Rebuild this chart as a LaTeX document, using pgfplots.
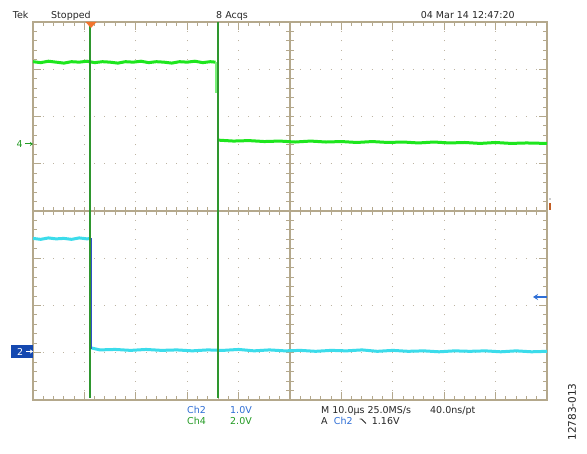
\documentclass[border=0pt]{standalone}
\usepackage{pgfplots}
\pgfplotsset{compat=1.18}
\usetikzlibrary{arrows.meta}
\usepackage{fontspec}
\setmainfont{DejaVu Sans}
\definecolor{grat}{HTML}{B4A88C}
\definecolor{gdot}{HTML}{BDB4A2}
\definecolor{trgreen}{HTML}{1EE61E}
\definecolor{trcyan}{HTML}{3CDCEB}
\definecolor{curgreen}{HTML}{2E962E}
\definecolor{edgeblue}{HTML}{3050C8}
\definecolor{chblue}{HTML}{2F6FD6}
\definecolor{chgreen}{HTML}{239B23}
\definecolor{mkblue}{HTML}{1448B0}
\definecolor{orng}{HTML}{F2752D}
\definecolor{txt}{HTML}{262626}
\newcommand{\scf}{\fontsize{9.5}{11}\selectfont}
\begin{document}
\begin{tikzpicture}
\begin{scope}[x=1pt,y=1pt]
\fill[white] (0,0) rectangle (587,454);
% dotted grid
\foreach \k in {1,2,3,4,6,7,8,9} {
  \pgfmathsetmacro\xx{33+\k*51.4}
  \draw[gdot, line width=1pt, dash pattern=on 1pt off 8.45pt, dash phase=0.5pt] (\xx,54) -- (\xx,432);
}
\foreach \k in {1,2,3,5,6,7} {
  \pgfmathsetmacro\yy{54+\k*47.25}
  \draw[gdot, line width=1pt, dash pattern=on 1pt off 9.28pt, dash phase=0.5pt] (33,\yy) -- (547,\yy);
}
% frame and center ticks
\foreach \i in {1,...,49} {
  \pgfmathsetmacro\xx{33+\i*10.28}
  \pgfmathsetmacro\tl{ifthenelse(mod(\i,5)==0,8,4)}
  \draw[grat, line width=1pt] (\xx,432) -- ++(0,-\tl);
  \draw[grat, line width=1pt] (\xx,54) -- ++(0,\tl);
  \draw[grat, line width=1pt] (\xx,239) -- (\xx,247);
}
\foreach \j in {1,...,39} {
  \pgfmathsetmacro\yy{54+\j*9.45}
  \pgfmathsetmacro\tl{ifthenelse(mod(\j,5)==0,8,4)}
  \draw[grat, line width=1pt] (33,\yy) -- ++(\tl,0);
  \draw[grat, line width=1pt] (547,\yy) -- ++(-\tl,0);
  \draw[grat, line width=1pt] (286,\yy) -- (294,\yy);
}
\draw[grat, line width=1.2pt] (33,54) rectangle (547,432);
\draw[grat, line width=1.2pt] (33,243) -- (547,243);
\draw[grat, line width=1.2pt] (290,54) -- (290,432);
\end{scope}

\begin{axis}[at={(33pt,54pt)}, anchor=south west, scale only axis,
  width=514pt, height=378pt, xmin=0, xmax=10, ymin=-4, ymax=4,
  hide axis, clip=false]
% Ch4 (green)
\addplot[trgreen, line width=3pt, line join=round] coordinates {
(0,3.16)(0.15,3.14)(0.3,3.17)(0.45,3.15)(0.6,3.13)(0.75,3.16)(0.9,3.15)(1.05,3.17)(1.2,3.14)(1.35,3.16)(1.5,3.15)(1.65,3.13)(1.8,3.16)(1.95,3.15)(2.1,3.17)(2.25,3.14)(2.4,3.16)(2.55,3.15)(2.7,3.13)(2.85,3.16)(3.0,3.15)(3.15,3.17)(3.3,3.14)(3.45,3.16)(3.55,3.15)
};
\addplot[trgreen!60!white, line width=1.5pt] coordinates {(3.56,3.15)(3.56,2.50)};
\addplot[trgreen, line width=2pt] coordinates {(3.60,2.50)(3.60,1.50)};
\addplot[trgreen, line width=3pt, line join=round] coordinates {
(3.60,1.50)(3.9,1.48)(4.2,1.49)(4.5,1.47)(4.8,1.48)(5.1,1.46)(5.4,1.48)(5.7,1.46)(6.0,1.47)(6.3,1.45)(6.6,1.47)(6.9,1.45)(7.2,1.46)(7.5,1.44)(7.8,1.46)(8.1,1.44)(8.4,1.45)(8.7,1.43)(9.0,1.45)(9.3,1.43)(9.6,1.44)(10,1.43)
};
% Ch2 (cyan)
\addplot[trcyan, line width=3pt, line join=round] coordinates {
(0,-0.58)(0.15,-0.60)(0.3,-0.57)(0.45,-0.59)(0.6,-0.58)(0.75,-0.60)(0.9,-0.57)(1.05,-0.59)(1.12,-0.58)
};
\addplot[trcyan, line width=3pt, line join=round] coordinates {
(1.14,-2.90)(1.3,-2.94)(1.6,-2.93)(1.9,-2.95)(2.2,-2.93)(2.5,-2.95)(2.8,-2.94)(3.1,-2.96)(3.4,-2.94)(3.7,-2.95)(4.0,-2.93)(4.3,-2.96)(4.6,-2.94)(4.9,-2.96)(5.2,-2.95)(5.5,-2.97)(5.8,-2.95)(6.1,-2.96)(6.4,-2.94)(6.7,-2.97)(7.0,-2.95)(7.3,-2.97)(7.6,-2.96)(7.9,-2.98)(8.2,-2.96)(8.5,-2.97)(8.8,-2.96)(9.1,-2.98)(9.4,-2.96)(9.7,-2.98)(10,-2.97)
};
\addplot[edgeblue, line width=1.3pt] coordinates {(1.135,-0.58)(1.135,-2.92)};
% cursors
\addplot[curgreen, line width=2pt] coordinates {(1.10,4)(1.10,-3.95)};
\addplot[curgreen, line width=2pt] coordinates {(3.60,4)(3.60,-3.95)};
\end{axis}

\begin{scope}[x=1pt,y=1pt]
% trigger position marker
\fill[orng] (85.5,432) -- (96.5,432) -- (91,426) -- cycle;
% trigger level marker
\fill[orng!80!black] (549,243.5) rectangle (551,251);
\fill[txt] (550,255) circle (0.6);
% right arrow
\draw[chblue, line width=1.6pt, {Stealth[length=5pt,width=6pt]}-] (533,157) -- (547,157);
% Ch4 marker
\node[anchor=base west, inner sep=0, font=\scf, text=chgreen] at (16.5,306.5) {4};
\draw[chgreen, line width=1pt, -{Stealth[length=3pt,width=4pt]}] (25,310) -- (33,310);
% Ch2 marker
\fill[mkblue] (11,95.5) rectangle (33,109);
\node[anchor=base west, inner sep=0, font=\scf, text=white] at (17,98.5) {2};
\draw[white, line width=1pt, -{Stealth[length=3pt,width=4pt]}] (26,102.5) -- (33,102.5);
% top texts
\node[anchor=base west, inner sep=0, font=\scf, text=txt] at (12.7,435.5) {Tek};
\node[anchor=base west, inner sep=0, font=\scf, text=txt] at (51,435.5) {Stopped};
\node[anchor=base west, inner sep=0, font=\scf, text=txt] at (216,435.5) {8 Acqs};
\node[anchor=base west, inner sep=0, font=\scf, text=txt] at (420.7,435.5) {04 Mar 14 12:47:20};
% bottom texts
\node[anchor=base west, inner sep=0, font=\scf, text=chblue] at (187,40) {Ch2};
\node[anchor=base west, inner sep=0, font=\scf, text=chblue] at (230,40) {1.0V};
\node[anchor=base west, inner sep=0, font=\scf, text=chgreen] at (187,29) {Ch4};
\node[anchor=base west, inner sep=0, font=\scf, text=chgreen] at (230,29) {2.0V};
\node[anchor=base west, inner sep=0, font=\scf, text=txt] at (321,40) {M 10.0µs 25.0MS/s};
\node[anchor=base west, inner sep=0, font=\scf, text=txt] at (430,40) {40.0ns/pt};
\node[anchor=base west, inner sep=0, font=\scf, text=txt] at (321,29) {A};
\node[anchor=base west, inner sep=0, font=\scf, text=chblue] at (333.7,29) {Ch2};
\draw[txt, line width=0.8pt] (359.5,35) -- (361.5,35) -- (366,30.5);
\node[anchor=base west, inner sep=0, font=\scf, text=txt] at (371.7,29) {1.16V};
\node[rotate=90, inner sep=0, font=\fontsize{10.5}{12}\selectfont, text=txt] at (572,42) {12783-013};
\end{scope}
\end{tikzpicture}
\end{document}
